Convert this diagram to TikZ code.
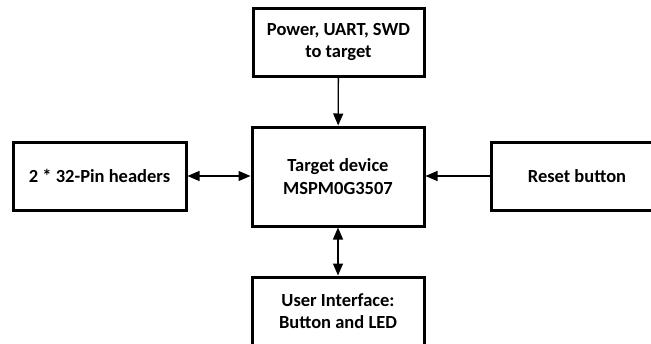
\documentclass[tikz,border=0pt]{standalone}
\usepackage{fontspec}
\setmainfont{Carlito}
\usetikzlibrary{arrows.meta}
\begin{document}
\begin{tikzpicture}[x=1pt,y=-1pt,
  blk/.style={draw=black, line width=3pt, fill=white, inner sep=0pt, align=center,
    font=\fontsize{18.5}{22.5}\selectfont\bfseries},
  conn/.style={line width=1.3pt, -{Triangle[length=12pt,width=10pt]}},
  bconn/.style={line width=1.3pt, {Triangle[length=12pt,width=10pt]}-{Triangle[length=12pt,width=10pt]}}]
\useasboundingbox (0,0) rectangle (651,343);
\node[blk, minimum width=171pt, minimum height=68pt] (top) at (338.5,42) {Power, UART, SWD\\to target};
\node[blk, minimum width=172pt, minimum height=99pt] (ctr) at (338,176.5) {Target device\\MSPM0G3507};
\node[blk, minimum width=173pt, minimum height=68pt] (lft) at (99.5,176) {2 * 32-Pin headers};
\node[blk, minimum width=172pt, minimum height=68pt] (rgt) at (577,176) {Reset button};
\node[blk, minimum width=172pt, minimum height=68pt] (bot) at (338,311) {User Interface:\\Button and LED};
\draw[conn] (top) -- (ctr);
\draw[bconn] (lft) -- (ctr.west |- lft.east);
\draw[conn] (rgt.west) -- (ctr.east |- rgt.west);
\draw[bconn] (ctr) -- (bot);
\end{tikzpicture}
\end{document}
